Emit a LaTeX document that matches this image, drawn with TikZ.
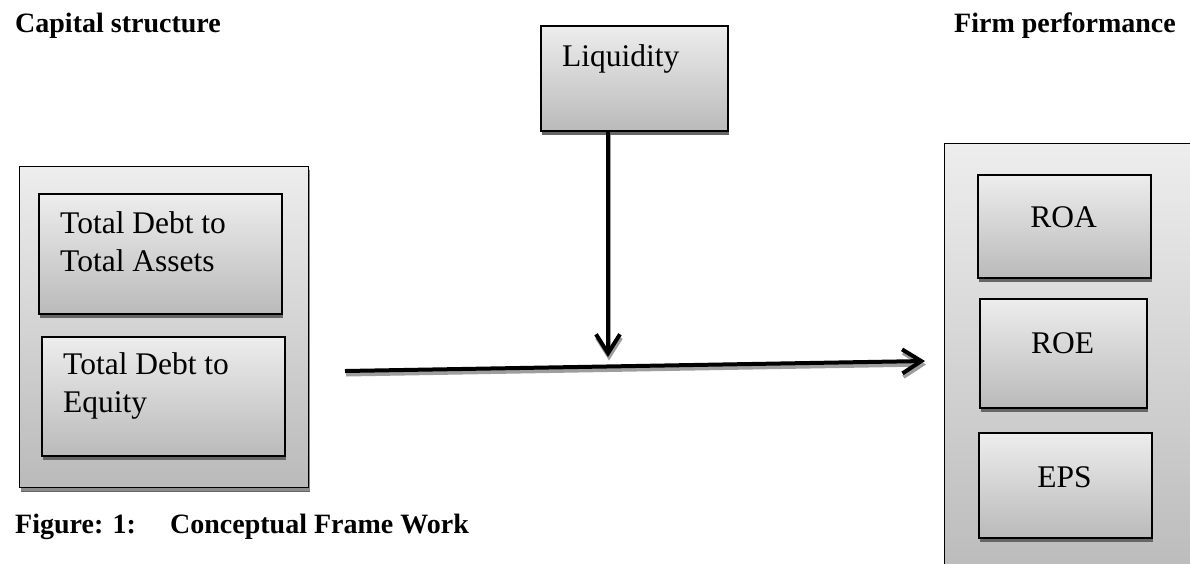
\documentclass[tikz,border=0pt]{standalone}
\usepackage{fontspec}
\setmainfont{Liberation Serif}
\usetikzlibrary{shadows,arrows.meta}
\begin{document}
\begin{tikzpicture}[x=1pt,y=-1pt,
  box/.style={draw=black,line width=1.6pt,inner sep=0pt,anchor=north west,
    top color=black!7,bottom color=black!27,
    drop shadow={shadow xshift=1.5pt,shadow yshift=-4pt,fill=black!60,opacity=1}},
  outerbox/.style={box,line width=1.4pt,
    drop shadow={shadow xshift=1pt,shadow yshift=-3pt,fill=black!45,opacity=1}},
  boxtext/.style={inner sep=0pt,font=\fontsize{31.5}{38}\selectfont},
  head/.style={inner sep=0pt,font=\fontsize{28}{33}\selectfont\bfseries},
  arr/.style={line width=4pt,-{Straight Barb[length=19pt,width=24pt,line width=4pt]}},
  arrshadow/.style={arr,draw=black!38}
]
\useasboundingbox (0,0) rectangle (1190,563);

% headings
\node[head,anchor=base west] (cs) at (15,32) {Capital structure};
\node[head,anchor=base east] (fp) at (1176,32) {Firm performance};
\node[head,anchor=base west] (fig) at (15,533) {Figure: 1:};
\node[head,anchor=base west] (cfw) at (170,533) {Conceptual Frame Work};

% left group
\node[outerbox,minimum width=289pt,minimum height=321pt] (lout) at (19,166) {};
\node[box,minimum width=243pt,minimum height=120pt] (tdta) at (38,193) {};
\node[boxtext,anchor=base west] (tdtat) at (60,233)
  {\begin{tabular}[t]{@{}l@{}}Total Debt to\\Total Assets\end{tabular}};
\node[box,minimum width=243pt,minimum height=119pt] (tde) at (41,336) {};
\node[boxtext,anchor=base west] (tdet) at (63,374)
  {\begin{tabular}[t]{@{}l@{}}Total Debt to\\Equity\end{tabular}};

% liquidity
\node[box,minimum width=187pt,minimum height=105pt] (liq) at (540,25) {};
\node[boxtext,anchor=base west] (liqt) at (562,66) {Liquidity};

% right group
\node[outerbox,minimum width=270pt,minimum height=440pt] (rout) at (944,143) {};
\node[box,minimum width=173pt,minimum height=103pt] (roa) at (977,174) {};
\node[boxtext,anchor=base] (roat) at (1063.5,227) {ROA};
\node[box,minimum width=167pt,minimum height=109pt] (roe) at (979,298) {};
\node[boxtext,anchor=base] (roet) at (1062.5,353) {ROE};
\node[box,minimum width=173pt,minimum height=105pt] (eps) at (978,432) {};
\node[boxtext,anchor=base] (epst) at (1064.5,487) {EPS};

% arrows
\coordinate (hs) at (345,371);
\coordinate (he) at (925,361);
\coordinate (vt) at (608,357);
\draw[arrshadow] ([shift={(1,3.5)}]hs) -- ([shift={(1,3.5)}]he);
\draw[arr] (hs) -- (he);
\draw[arrshadow] ([shift={(1,3.5)}]liq.south -| vt) -- ([shift={(1,3.5)}]vt);
\draw[arr] (liq.south -| vt) -- (vt);
\end{tikzpicture}
\end{document}
